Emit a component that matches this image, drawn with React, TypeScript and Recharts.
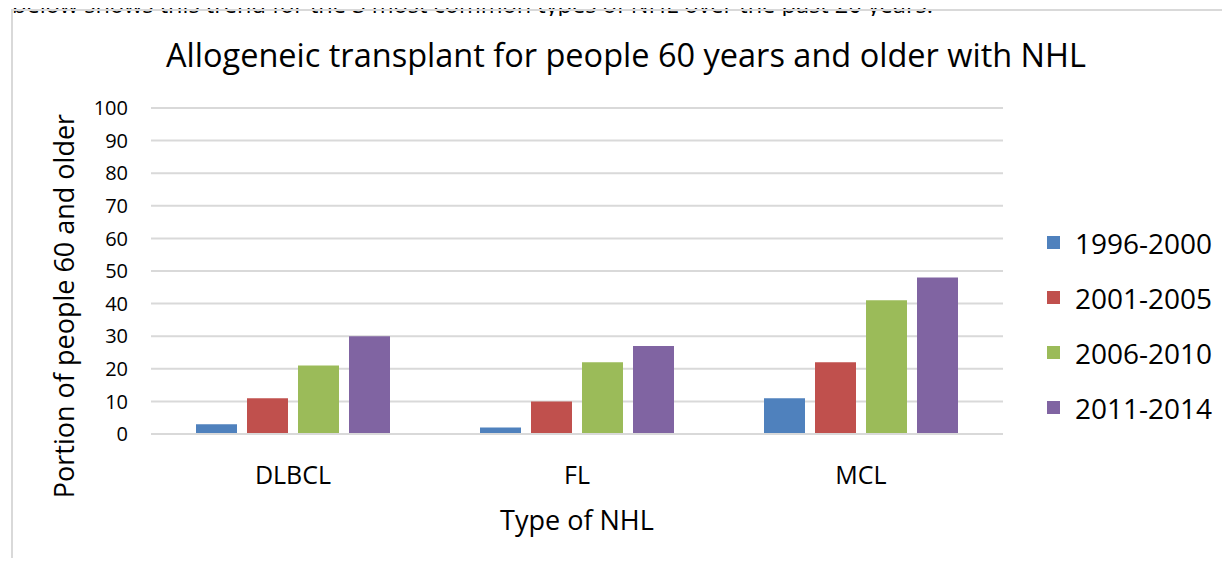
import React from 'react';
import { BarChart, Bar, XAxis, YAxis, CartesianGrid, Label } from 'recharts';

const categories = ['DLBCL', 'FL', 'MCL'];
const seriesNames = ['1996-2000', '2001-2005', '2006-2010', '2011-2014'];
const seriesColors = ['#4f81bd', '#c0504d', '#9bbb59', '#8064a2'];
const values1996 = [3, 2, 11];
const values2001 = [11, 10, 22];
const values2006 = [21, 22, 41];
const values2011 = [30, 27, 48];
const yTicks = [0, 10, 20, 30, 40, 50, 60, 70, 80, 90, 100];

const seriesValues = [values1996, values2001, values2006, values2011];
const data = categories.map((type, i) => {
  const row: Record<string, string | number> = { type };
  seriesNames.forEach((name, s) => {
    row[name] = seriesValues[s][i];
  });
  return row;
});

const FONT = '"Open Sans", sans-serif';

function YTitle({ viewBox }: any) {
  const cx = 63;
  const cy = viewBox.y + viewBox.height / 2 + 35;
  return (
    <text
      x={cx}
      y={cy}
      transform={`rotate(-90 ${cx} ${cy})`}
      textAnchor="middle"
      dominantBaseline="central"
      fontSize={27}
      fontFamily={FONT}
      fill="#000"
    >
      Portion of people 60 and older
    </text>
  );
}

export default function App() {
  return (
    <div
      style={{
        position: 'relative',
        width: 1230,
        height: 566,
        margin: -8,
        overflow: 'hidden',
        background: '#fff',
        fontFamily: FONT,
      }}
    >
      {/* sentence above the chart, cut by the top edge */}
      <svg
        width={1230}
        height={16}
        style={{ position: 'absolute', left: 0, top: 0 }}
      >
        <text
          x={12}
          y={13}
          fontSize={24}
          fontFamily={FONT}
          fill="#000"
          textLength={921}
          lengthAdjust="spacingAndGlyphs"
        >
          below shows this trend for the 3 most common types of NHL over the past 20 years.
        </text>
      </svg>

      {/* chart frame */}
      <div
        style={{
          position: 'absolute',
          left: 11,
          top: 9,
          width: 1240,
          height: 600,
          borderLeft: '2px solid #d9d9d9',
          borderTop: '2px solid #d9d9d9',
        }}
      />

      <div
        style={{
          position: 'absolute',
          left: 0,
          right: 0,
          top: 32,
          textAlign: 'center',
          fontSize: 32.5,
          color: '#000',
          paddingLeft: 22,
          whiteSpace: 'nowrap',
        }}
      >
        Allogeneic transplant for people 60 years and older with NHL
      </div>

      <div style={{ position: 'absolute', left: 0, top: 0 }}>
        <BarChart
          width={1230}
          height={566}
          data={data}
          margin={{ top: 108, right: 227, bottom: 32, left: 10 }}
          barSize={41}
          barGap={10}
        >
          <CartesianGrid vertical={false} stroke="#d9d9d9" strokeWidth={2} />
          <XAxis
            dataKey="type"
            height={100}
            axisLine={{ stroke: '#d9d9d9', strokeWidth: 2 }}
            tickLine={false}
            tickSize={0}
            tickMargin={32}
            tick={{ fontSize: 25, fontFamily: FONT, fill: '#000' }}
          >
            <Label
              value="Type of NHL"
              position="insideBottom"
              offset={4}
              style={{ fontSize: 27, fontFamily: FONT, fill: '#000' }}
            />
          </XAxis>
          <YAxis
            width={141}
            domain={[0, 100]}
            ticks={yTicks}
            interval={0}
            axisLine={false}
            tickLine={false}
            tickSize={0}
            tickMargin={23}
            tick={{ fontSize: 20, fontFamily: FONT, fill: '#000' }}
          >
            <Label content={<YTitle />} />
          </YAxis>
          {seriesNames.map((name, s) => (
            <Bar key={name} dataKey={name} fill={seriesColors[s]} isAnimationActive={false} />
          ))}
        </BarChart>
      </div>

      {/* legend */}
      <div style={{ position: 'absolute', left: 1047, top: 215 }}>
        {seriesNames.map((name, s) => (
          <div key={name} style={{ display: 'flex', alignItems: 'center', height: 55 }}>
            <span
              style={{
                width: 13,
                height: 13,
                background: seriesColors[s],
                marginRight: 15,
                display: 'inline-block',
              }}
            />
            <span style={{ fontSize: 28, color: '#000', whiteSpace: 'nowrap' }}>{name}</span>
          </div>
        ))}
      </div>
    </div>
  );
}
